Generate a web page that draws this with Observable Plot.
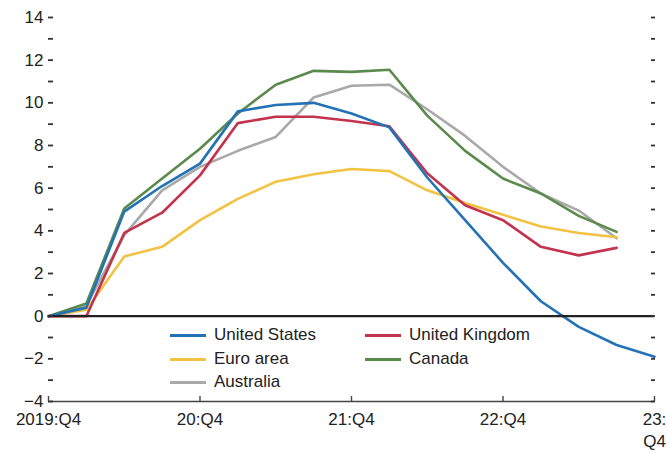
<!DOCTYPE html>
<html>
<head>
<meta charset="utf-8">
<script src="https://cdn.jsdelivr.net/npm/d3@7"></script>
<script src="https://cdn.jsdelivr.net/npm/@observablehq/plot@0.6"></script>
<style>
  html, body { margin: 0; padding: 0; background: #fff; }
  #wrap { position: relative; width: 667px; height: 452px; font-family: "Liberation Sans", Arial, sans-serif; }
  .leg { position: absolute; display: flex; align-items: center; font-size: 17px; color: #222; white-space: nowrap; }
  .sw { display: inline-block; width: 36px; height: 3px; margin-right: 8px; }
</style>
</head>
<body>
<div id="wrap"></div>
<script>
// Quarter index: 0 = 2019:Q4 ... 16 = 2023:Q4
const countries = ["Australia", "Euro area", "Canada", "United Kingdom", "United States"];
const colors = ["#a9a9a9", "#f2c343", "#5a8a4c", "#c2334d", "#2472b6"];

const unitedStates   = [0, 0.4, 4.9, 6.1, 7.15, 9.6, 9.9, 10.0, 9.5, 8.85, 6.5, 4.5, 2.5, 0.7, -0.5, -1.35, -1.9];
const unitedKingdom  = [0, 0, 3.9, 4.85, 6.6, 9.05, 9.35, 9.35, 9.15, 8.9, 6.7, 5.2, 4.5, 3.25, 2.85, 3.2];
const euroArea       = [0, 0.3, 2.8, 3.25, 4.5, 5.5, 6.3, 6.65, 6.9, 6.8, 5.9, 5.3, 4.75, 4.2, 3.9, 3.7];
const canada         = [0, 0.6, 5.05, 6.45, 7.85, 9.5, 10.85, 11.5, 11.45, 11.55, 9.4, 7.75, 6.45, 5.75, 4.7, 3.95];
const australia      = [0, 0.5, 3.8, 5.9, 7.0, 7.75, 8.4, 10.25, 10.8, 10.85, 9.7, 8.45, 7.0, 5.75, 4.95, 3.65];

const xTickValues = [0, 4, 8, 12, 16];
const xTickLabels = ["2019:Q4", "20:Q4", "21:Q4", "22:Q4", "23:\nQ4"];
const yTicks = d3.range(-4, 15, 1);

const seriesValues = {
  "Australia": australia,
  "Euro area": euroArea,
  "Canada": canada,
  "United Kingdom": unitedKingdom,
  "United States": unitedStates
};
const rows = countries.flatMap(c => seriesValues[c].map((v, i) => ({country: c, q: i, value: v})));

const font = '"Liberation Sans", Arial, sans-serif';

const chart = Plot.plot({
  width: 667,
  height: 452,
  marginLeft: 48,
  marginRight: 13,
  marginTop: 17,
  marginBottom: 51,
  style: {fontFamily: font, fontSize: "17px", color: "#222", background: "transparent"},
  x: {domain: [0, 16]},
  y: {domain: [-4, 14]},
  color: {domain: countries, range: colors},
  marks: [
    Plot.ruleY([-4], {stroke: "#444", strokeWidth: 1.6}),
    Plot.lineY(rows, {x: "q", y: "value", z: "country", stroke: "country", strokeWidth: 2.6}),
    Plot.ruleY([0], {stroke: "#222", strokeWidth: 2.2}),
    Plot.axisY({ticks: yTicks, tickSize: 5, dx: 5, tickPadding: 5, label: null, stroke: "#333", strokeWidth: 1.8,
      tickFormat: d => d % 2 === 0 ? (d < 0 ? "\u2212" + Math.abs(d) : String(d)) : ""}),
    Plot.axisY({anchor: "right", ticks: yTicks, tickSize: 4, dx: -4, label: null, stroke: "#333", strokeWidth: 1.8,
      tickFormat: () => ""}),
    Plot.axisX({ticks: xTickValues, tickSize: 5, dy: -5, tickPadding: 8, label: null, stroke: "#444", strokeWidth: 1.4,
      lineHeight: 1.3,
      tickFormat: d => xTickLabels[xTickValues.indexOf(d)]})
  ]
});

const wrap = document.getElementById("wrap");
wrap.appendChild(chart);

// Legend overlay
const legendItems = [
  {name: "United States", left: 170, top: 335},
  {name: "United Kingdom", left: 365, top: 335},
  {name: "Euro area", left: 170, top: 359},
  {name: "Canada", left: 365, top: 359},
  {name: "Australia", left: 170, top: 382}
];
for (const it of legendItems) {
  const d = document.createElement("div");
  d.className = "leg";
  d.style.left = it.left + "px";
  d.style.top = (it.top - 12) + "px";
  d.style.height = "24px";
  const sw = document.createElement("span");
  sw.className = "sw";
  sw.style.background = colors[countries.indexOf(it.name)];
  const t = document.createElement("span");
  t.textContent = it.name;
  d.appendChild(sw);
  d.appendChild(t);
  wrap.appendChild(d);
}
</script>
</body>
</html>
